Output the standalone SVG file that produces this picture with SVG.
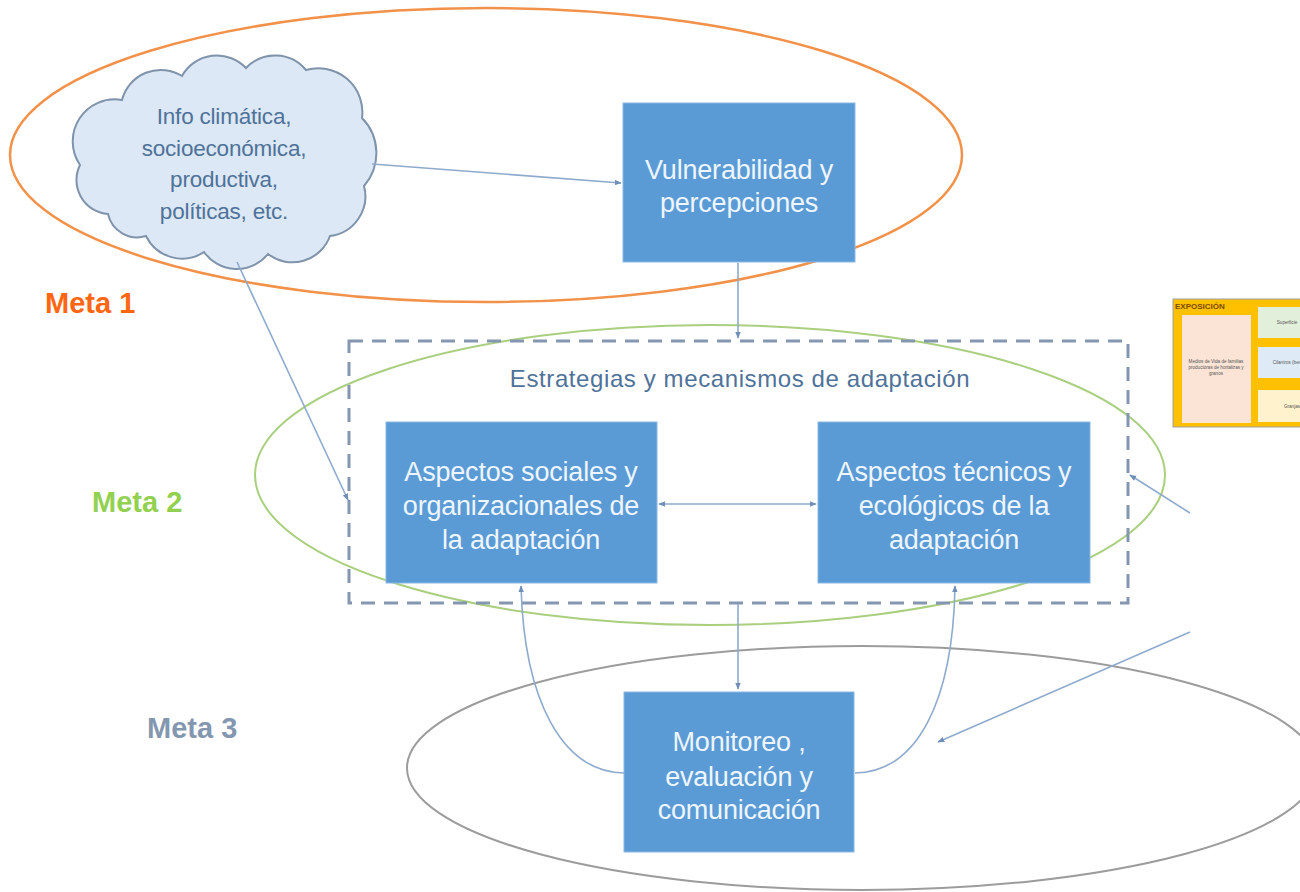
<svg xmlns="http://www.w3.org/2000/svg" width="1300" height="892" viewBox="0 0 1300 892">
<defs>
<marker id="ah" viewBox="0 0 10 10" refX="9" refY="5" markerWidth="7" markerHeight="7" markerUnits="userSpaceOnUse" orient="auto-start-reverse">
<path d="M0,1 L10,5 L0,9 Z" fill="#6f8fb8"/>
</marker>
<style>
.box{fill:#5b9bd5;stroke:#8ab8e6;stroke-width:1}
.bt{font-family:"Liberation Sans",Arial,sans-serif;font-size:27px;fill:#eef5fc;text-anchor:middle;letter-spacing:-0.2px}
.ct{font-family:"Liberation Sans",Arial,sans-serif;font-size:22.5px;fill:#4f7299;text-anchor:middle;letter-spacing:-0.2px}
.meta{font-family:"Liberation Sans",Arial,sans-serif;font-size:29px;font-weight:bold}
.con{fill:none;stroke:#8eaacc;stroke-width:1.6}
.tiny{font-family:"Liberation Sans",Arial,sans-serif;font-size:4.6px;fill:#555;text-anchor:middle}
</style>
</defs>
<rect width="1300" height="892" fill="#ffffff"/>

<g id="ellipses">
<ellipse cx="486" cy="155" rx="476" ry="147" fill="none" stroke="#f2924a" stroke-width="2.5"/>
<ellipse cx="710" cy="475" rx="455" ry="150" fill="none" stroke="#a9cf7f" stroke-width="2"/>
<ellipse cx="862" cy="768" rx="455" ry="122" fill="none" stroke="#9c9c9c" stroke-width="2"/>
</g>

<g id="meta-labels">
<text class="meta" x="45" y="313" fill="#ff6611">Meta 1</text>
<text class="meta" x="92" y="512" fill="#92d050">Meta 2</text>
<text class="meta" x="147" y="738" fill="#8497b0">Meta 3</text>
</g>

<g id="cloud">
<path d="M80,165 A42,42 0 0 1 122,100 A40,40 0 0 1 182,76 A40,40 0 0 1 246,68 A40,40 0 0 1 306,70 A44,44 0 0 1 362,118 A50,50 0 0 1 364,186 A40,40 0 0 1 330,236 A40,40 0 0 1 268,254 A40,40 0 0 1 204,252 A40,40 0 0 1 146,236 A30,30 0 0 1 108,214 A34,34 0 0 1 80,165 Z" fill="#dce8f5" stroke="#7f93ab" stroke-width="2"/>
<text class="ct" x="224" y="124">Info climática,</text>
<text class="ct" x="224" y="156">socioeconómica,</text>
<text class="ct" x="224" y="187">productiva,</text>
<text class="ct" x="224" y="219">políticas, etc.</text>
</g>

<g id="vulnerabilidad">
<rect class="box" x="623" y="103" width="232" height="159"/>
<text class="bt" x="739" y="179">Vulnerabilidad y</text>
<text class="bt" x="739" y="212">percepciones</text>
</g>

<g id="estrategias">
<rect x="349" y="341" width="779" height="262" fill="none" stroke="#8496b0" stroke-width="3" stroke-dasharray="14,9"/>
<text x="740" y="387" font-family="Liberation Sans, Arial, sans-serif" font-size="24px" fill="#4f7299" text-anchor="middle" letter-spacing="0.6px">Estrategias y mecanismos de adaptación</text>
</g>

<g id="sociales">
<rect class="box" x="386" y="422" width="271" height="161"/>
<text class="bt" x="521" y="481">Aspectos sociales y</text>
<text class="bt" x="521" y="515">organizacionales de</text>
<text class="bt" x="521" y="549">la adaptación</text>
</g>

<g id="tecnicos">
<rect class="box" x="818" y="422" width="272" height="161"/>
<text class="bt" x="954" y="481">Aspectos técnicos y</text>
<text class="bt" x="954" y="515">ecológicos de la</text>
<text class="bt" x="954" y="549">adaptación</text>
</g>

<g id="monitoreo">
<rect class="box" x="624" y="692" width="230" height="160"/>
<text class="bt" x="739" y="751">Monitoreo ,</text>
<text class="bt" x="739" y="786">evaluación y</text>
<text class="bt" x="739" y="819">comunicación</text>
</g>

<g id="exposicion-table">
<rect x="1173" y="299" width="140" height="128" fill="#ffc000" stroke="#a0a0a0" stroke-width="1"/>
<text x="1175" y="309" font-family="Liberation Sans, Arial, sans-serif" font-size="8px" font-weight="bold" fill="#7a4a00">EXPOSICIÓN</text>
<rect x="1182" y="315" width="69" height="108" fill="#fbe4d5"/>
<text class="tiny" x="1216" y="363">Medios de Vida de familias</text>
<text class="tiny" x="1216" y="369">productoras de hortalizas y</text>
<text class="tiny" x="1216" y="375">granos</text>
<rect x="1258" y="307" width="60" height="31" fill="#e2efda"/>
<text class="tiny" x="1287" y="324">Superficie</text>
<rect x="1258" y="347" width="60" height="31" fill="#deebf7"/>
<text class="tiny" x="1287" y="364">Cilantros (ben</text>
<rect x="1258" y="390" width="60" height="32" fill="#fff2cc"/>
<text class="tiny" x="1292" y="408">Granjas</text>
</g>

<g id="connectors">
<path class="con" d="M372,164 L621,183" marker-end="url(#ah)"/>
<path class="con" d="M738,263 L738,338" marker-end="url(#ah)"/>
<path class="con" d="M237,262 L348,500" marker-end="url(#ah)"/>
<path class="con" d="M659,504 L816,504" marker-start="url(#ah)" marker-end="url(#ah)"/>
<path class="con" d="M738,604 L738,689" marker-end="url(#ah)"/>
<path class="con" d="M624,773 C562,772 524,700 521,586" marker-end="url(#ah)"/>
<path class="con" d="M855,773 C918,772 953,700 955,586" marker-end="url(#ah)"/>
<path class="con" d="M1190,513 L1130,475" marker-end="url(#ah)"/>
<path class="con" d="M1190,632 L938,742" marker-end="url(#ah)"/>
</g>
</svg>
